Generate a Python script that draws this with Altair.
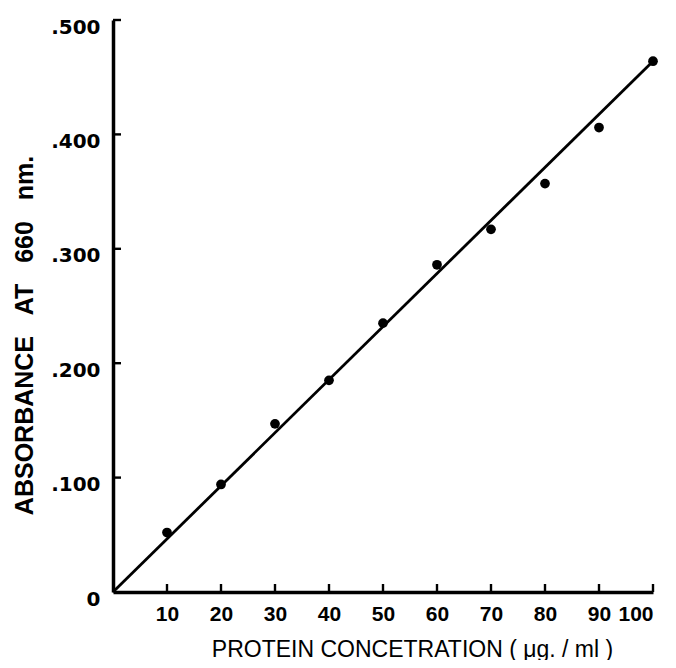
import altair as alt
import pandas as pd

conc = [10, 20, 30, 40, 50, 60, 70, 80, 90, 100]
absorb = [0.052, 0.094, 0.147, 0.185, 0.235, 0.286, 0.317, 0.357, 0.406, 0.464]
line_x = [0, 100]
line_y = [0, 0.464]
x_ticks = [10, 20, 30, 40, 50, 60, 70, 80, 90, 100]
y_ticks = [0.1, 0.2, 0.3, 0.4, 0.5]
y_label_vals = [0, 0.1, 0.2, 0.3, 0.4, 0.5]

W, H = 540, 572
pts = pd.DataFrame({"x": conc, "y": absorb})
fit = pd.DataFrame({"x": line_x, "y": line_y})
xt = pd.DataFrame({"x": x_ticks})
yt = pd.DataFrame({"y": y_ticks})

xs = alt.Scale(domain=[0, 100], nice=False, zero=True)
ys = alt.Scale(domain=[0, 0.5], nice=False, zero=True)

NB = "\u00a0"

xaxis = alt.Axis(
    values=x_ticks, labelExpr="datum.value", ticks=False, grid=False,
    domainWidth=3.5, domainColor="black", labelColor="black",
    labelFont="Liberation Sans", labelFontWeight="bold",
    labelFontSize=21, labelPadding=22, labelBaseline="middle",
    title="PROTEIN CONCETRATION ( μg. / ml )", titleFont="Liberation Sans",
    titleFontSize=23, titleFontWeight="normal", titleColor="black",
    titleX=299, titleY=57, titleBaseline="middle", titleAnchor="middle",
)
yaxis = alt.Axis(
    values=y_label_vals,
    labelExpr="datum.value == 0 ? '0' : '.' + format(datum.value * 1000, '03d')",
    ticks=False, grid=False, domainWidth=3.5, domainColor="black",
    labelColor="black", labelFont="DejaVu Sans", labelFontWeight="bold",
    labelFontSize=20, labelPadding=13, labelBaseline="top", labelOffset=-3,
    title="ABSORBANCE" + NB * 3 + "AT" + NB * 3 + "660" + NB * 3 + "nm.",
    titleFont="Liberation Sans",
    titleFontSize=25, titleFontWeight="bold", titleColor="black",
    titleX=-89, titleY=315, titleAngle=-90, titleBaseline="middle",
    titleAnchor="middle",
)

base_axes = alt.Chart(pts).mark_point(opacity=0).encode(
    x=alt.X("x:Q", scale=xs, axis=xaxis),
    y=alt.Y("y:Q", scale=ys, axis=yaxis),
)

line = alt.Chart(fit).mark_line(color="black", strokeWidth=2.8).encode(
    x=alt.X("x:Q", scale=xs), y=alt.Y("y:Q", scale=ys)
)

dots = alt.Chart(pts).mark_circle(color="black", size=95, opacity=1).encode(
    x=alt.X("x:Q", scale=xs), y=alt.Y("y:Q", scale=ys)
)

xtick = alt.Chart(xt).mark_rule(color="black", strokeWidth=2.4).encode(
    x=alt.X("x:Q", scale=xs), y=alt.value(H), y2=alt.value(H - 8)
)
ytick = alt.Chart(yt).mark_rule(color="black", strokeWidth=2.4).encode(
    y=alt.Y("y:Q", scale=ys), x=alt.value(0), x2=alt.value(8)
)

chart = alt.layer(base_axes, line, dots, xtick, ytick).properties(
    width=W, height=H,
    autosize=alt.AutoSizeParams(type="none"),
    padding={"left": 105, "top": 12, "right": 15, "bottom": 68},
    background="white",
).configure_view(stroke=None)

chart.save("out.html", embed_options={"renderer": "svg", "actions": False})
